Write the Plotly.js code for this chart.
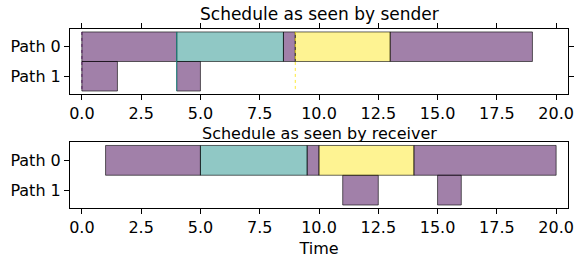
<!DOCTYPE html>
<html>
<head>
<meta charset="utf-8">
<script src="https://cdn.plot.ly/plotly-3.0.1.min.js"></script>
<style>html,body{margin:0;padding:0;background:#fff;}#chart{width:574px;height:259px;}</style>
</head>
<body>
<div id="chart"></div>
<script>
// ---- data ----
const pathLabels = ['Path 0', 'Path 1'];
const xTickVals = [0, 2.5, 5, 7.5, 10, 12.5, 15, 17.5, 20];
const xTickText = ['0.0', '2.5', '5.0', '7.5', '10.0', '12.5', '15.0', '17.5', '20.0'];

// sender view
const senderPurpleStart = [0, 8.5, 13, 0, 4];
const senderPurpleDur   = [4, 0.5, 6, 1.5, 1];
const senderPurplePath  = [0, 0, 0, 1, 1];
const senderTealStart = [4];
const senderTealDur   = [4.5];
const senderTealPath  = [0];
const senderYellowStart = [9];
const senderYellowDur   = [4];
const senderYellowPath  = [0];
// zero-length send events (drawn as thin lines)
const senderEventTimes  = [0, 4, 9];
const senderEventColors = ['rgba(68,1,84,0.75)', 'rgba(33,145,140,0.9)', 'rgba(253,231,37,0.9)'];

// receiver view
const receiverPurpleStart = [1, 9.5, 14, 11, 15];
const receiverPurpleDur   = [4, 0.5, 6, 1.5, 1];
const receiverPurplePath  = [0, 0, 0, 1, 1];
const receiverTealStart = [5];
const receiverTealDur   = [4.5];
const receiverTealPath  = [0];
const receiverYellowStart = [10];
const receiverYellowDur   = [4];
const receiverYellowPath  = [0];

const titles = ['Schedule as seen by sender', 'Schedule as seen by receiver'];

// ---- styles ----
const FILL = {
  purple: 'rgba(68,1,84,0.5)',
  teal: 'rgba(33,145,140,0.5)',
  yellow: 'rgba(253,231,37,0.5)'
};
const EDGE = 'rgba(0,0,0,0.6)';
const FONT = 'DejaVu Sans, sans-serif';

function barTrace(start, dur, path, fill, xa, ya) {
  return {
    type: 'bar', orientation: 'h',
    base: start, x: dur, y: path, width: 1,
    marker: {color: fill, line: {color: EDGE, width: 1}},
    xaxis: xa, yaxis: ya, hoverinfo: 'skip', showlegend: false
  };
}

const traces = [
  barTrace(senderPurpleStart, senderPurpleDur, senderPurplePath, FILL.purple, 'x', 'y'),
  barTrace(senderTealStart, senderTealDur, senderTealPath, FILL.teal, 'x', 'y'),
  barTrace(senderYellowStart, senderYellowDur, senderYellowPath, FILL.yellow, 'x', 'y'),
  barTrace(receiverPurpleStart, receiverPurpleDur, receiverPurplePath, FILL.purple, 'x2', 'y2'),
  barTrace(receiverTealStart, receiverTealDur, receiverTealPath, FILL.teal, 'x2', 'y2'),
  barTrace(receiverYellowStart, receiverYellowDur, receiverYellowPath, FILL.yellow, 'x2', 'y2')
];

senderEventTimes.forEach((t, i) => {
  traces.push({
    type: 'scatter', mode: 'lines',
    x: [t, t], y: [-0.5, pathLabels.length - 0.5],
    line: {color: senderEventColors[i], width: 1, dash: i === 1 ? 'solid' : 'dot'},
    xaxis: 'x', yaxis: 'y', hoverinfo: 'skip', showlegend: false
  });
});

function xAxis(anchor, mirror, extra) {
  return Object.assign({
    anchor: anchor, domain: [0, 1], range: [-0.5, 20.5],
    tickvals: xTickVals, ticktext: xTickText,
    ticks: 'outside', ticklen: 5, tickwidth: 1, tickcolor: '#000',
    showline: true, linecolor: '#000', linewidth: 1, mirror: mirror,
    showgrid: false, zeroline: false,
    tickfont: {family: FONT, size: 16, color: '#000'}
  }, extra || {});
}
function yAxis(anchor, domain, mirror) {
  return {
    anchor: anchor, domain: domain, range: [1.6, -0.6],
    tickvals: [0, 1], ticktext: pathLabels,
    ticks: 'outside', ticklen: 5, tickwidth: 1, tickcolor: '#000',
    showline: true, linecolor: '#000', linewidth: 1, mirror: mirror,
    showgrid: false, zeroline: false,
    tickfont: {family: FONT, size: 16, color: '#000'}
  };
}

const layout = {
  width: 574, height: 259,
  margin: {l: 70, r: 6, t: 29, b: 51, pad: 0},
  paper_bgcolor: '#fff', plot_bgcolor: '#fff',
  barmode: 'overlay',
  showlegend: false,
  font: {family: FONT, color: '#000'},
  xaxis: xAxis('y', 'ticks'),
  yaxis: yAxis('x', [0.637, 1], 'ticks'),
  xaxis2: xAxis('y2', true, {title: {text: 'Time', font: {family: FONT, size: 16, color: '#000'}, standoff: 6}}),
  yaxis2: yAxis('x2', [0, 0.366], true),
  annotations: [
    {text: titles[0], xref: 'paper', yref: 'paper', x: 0.5, y: 1, xanchor: 'center', yanchor: 'bottom',
     yshift: 4, borderpad: 0, showarrow: false, font: {family: FONT, size: 17, color: '#000'}},
    {text: titles[1], xref: 'paper', yref: 'paper', x: 0.5, y: 0.366, xanchor: 'center', yanchor: 'bottom',
     yshift: -2, borderpad: 0, showarrow: false, font: {family: FONT, size: 16, color: '#000'}}
  ]
};

Plotly.newPlot('chart', traces, layout, {displayModeBar: false, staticPlot: true});
</script>
</body>
</html>
